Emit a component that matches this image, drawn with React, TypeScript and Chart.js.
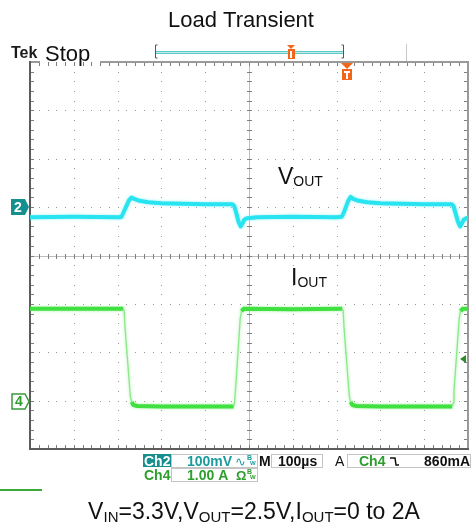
import React, { useEffect, useRef } from "react";
import { Chart, registerables } from "chart.js";

Chart.register(...registerables);

// ---------- data ----------
const TITLE = "Load Transient";
const TIME_MIN_US = 0;
const TIME_MAX_US = 1000; // 10 div x 100 µs
const US_PER_DIV = 100;
const DIVS_X = 10;
const DIVS_Y = 8;

// Ch2 (VOUT, AC coupled) 100 mV/div, ground marker 5 div above bottom
const CH2_RANGE_MV = [-500, 300];
// Ch4 (IOUT) 1 A/div, ground marker 1 div above bottom
const CH4_RANGE_A = [-1, 7];

const voutTimesUs = [
  0, 100, 205, 209, 214, 220, 226, 232, 238, 250, 270, 300, 350, 400, 462, 466, 471, 476, 481, 485,
  489, 495, 520, 600, 700, 712, 717, 722, 727, 732, 738, 750, 770, 800, 850, 900, 963, 967, 972,
  977, 982, 986, 990, 996, 1000,
];
const voutMv = [
  -21, -20, -21, -20, -10, 2, 14, 20, 17, 13, 10, 8, 7, 6, 6, 3, -12, -30, -40, -34, -26, -23, -21,
  -20, -21, -20, -10, 2, 14, 21, 17, 13, 10, 8, 7, 6, 6, 2, -14, -30, -40, -34, -26, -23, -22,
];

const ioutTimesUs = [
  0, 100, 213, 215, 217, 229, 232, 236, 245, 300, 400, 465, 467, 469, 480, 483, 488, 600, 713, 715,
  717, 729, 732, 736, 745, 800, 900, 964, 966, 968, 980, 983, 988, 1000,
];
const ioutA = [
  1.9, 1.9, 1.9, 1.85, 1.5, 0.1, -0.03, -0.09, -0.11, -0.12, -0.12, -0.12, -0.05, 0.2, 1.7, 1.85,
  1.9, 1.89, 1.9, 1.85, 1.5, 0.1, -0.03, -0.09, -0.11, -0.12, -0.12, -0.12, -0.05, 0.2, 1.7, 1.85,
  1.9, 1.9,
];

const TRIGGER_TIME_US = 723;
const TRIGGER_LEVEL_A = 0.86;
const RECORD_TRIGGER_FRACTION = 0.72;

const readoutCh2Scale = "100mV";
const readoutCh4Scale = "1.00 A";
const readoutTimebase = "100µs";
const readoutTrigLevel = "860mA";

// ---------- styles ----------
const FONT = '"Liberation Sans", Arial, Helvetica, sans-serif';
const CYAN = "#27e4f0";
const CYAN_GLOW = "rgba(140,240,248,0.9)";
const GREEN = "#3fe03f";
const GREEN_GLOW = "rgba(150,238,150,0.9)";
const GREEN_EDGE = "#8de88d";
const TEAL = "#168f8f";
const TEAL_TXT = "#1a9c9c";
const GREEN_TXT = "#2e9e2e";
const ORANGE = "#f2661c";

type Run = { t: string; size: number; dy?: number; bold?: boolean };

function drawRuns(
  ctx: CanvasRenderingContext2D,
  runs: Run[],
  x: number,
  baseline: number,
  align: "left" | "center" | "right" = "left"
) {
  const widths = runs.map((r) => {
    ctx.font = `${r.bold ? "bold " : ""}${r.size}px ${FONT}`;
    return ctx.measureText(r.t).width;
  });
  const total = widths.reduce((a, b) => a + b, 0);
  let cx = align === "center" ? x - total / 2 : align === "right" ? x - total : x;
  ctx.textAlign = "left";
  ctx.textBaseline = "alphabetic";
  runs.forEach((r, i) => {
    ctx.font = `${r.bold ? "bold " : ""}${r.size}px ${FONT}`;
    ctx.fillText(r.t, cx, baseline + (r.dy || 0));
    cx += widths[i];
  });
}

const glowColors = [CYAN_GLOW, GREEN_GLOW];

const scopePlugin = {
  id: "scope",
  beforeDatasetDraw(chart: any, args: any) {
    const ctx = chart.ctx;
    ctx.save();
    ctx.shadowColor = glowColors[args.index] || "transparent";
    ctx.shadowBlur = 3;
  },
  afterDatasetDraw(chart: any) {
    chart.ctx.restore();
  },
  beforeDatasetsDraw(chart: any) {
    const { ctx, chartArea: a, scales } = chart;
    const xs = scales.x;
    const yd = scales.yDiv;
    ctx.save();
    // dotted graticule
    ctx.fillStyle = "#9a9a9a";
    for (let i = 1; i < DIVS_X; i++) {
      if (i === DIVS_X / 2) continue;
      const x = Math.round(xs.getPixelForValue(i * US_PER_DIV));
      for (let j = 1; j < DIVS_Y * 5; j++) {
        const y = Math.round(yd.getPixelForValue(j / 5));
        ctx.fillRect(x, y, 1, 1);
      }
    }
    for (let j = 1; j < DIVS_Y; j++) {
      if (j === DIVS_Y / 2) continue;
      const y = Math.round(yd.getPixelForValue(j));
      for (let i = 1; i < DIVS_X * 5; i++) {
        const x = Math.round(xs.getPixelForValue((i * US_PER_DIV) / 5));
        ctx.fillRect(x, y, 1, 1);
      }
    }
    // center cross
    const cx = Math.round(xs.getPixelForValue((DIVS_X / 2) * US_PER_DIV)) + 0.5;
    const cy = Math.round(yd.getPixelForValue(DIVS_Y / 2)) + 0.5;
    ctx.strokeStyle = "#bdbdbd";
    ctx.lineWidth = 1;
    ctx.beginPath();
    ctx.moveTo(cx, a.top);
    ctx.lineTo(cx, a.bottom);
    ctx.moveTo(a.left, cy);
    ctx.lineTo(a.right, cy);
    ctx.stroke();
    ctx.strokeStyle = "#7e7e7e";
    ctx.beginPath();
    for (let j = 1; j < DIVS_Y * 5; j++) {
      const y = Math.round(yd.getPixelForValue(j / 5)) + 0.5;
      ctx.moveTo(cx - 2.5, y);
      ctx.lineTo(cx + 2.5, y);
      ctx.moveTo(a.left, y);
      ctx.lineTo(a.left + 4, y);
      ctx.moveTo(a.right, y);
      ctx.lineTo(a.right - 4, y);
    }
    for (let i = 1; i < DIVS_X * 5; i++) {
      const x = Math.round(xs.getPixelForValue((i * US_PER_DIV) / 5)) + 0.5;
      ctx.moveTo(x, cy - 2.5);
      ctx.lineTo(x, cy + 2.5);
      ctx.moveTo(x, a.top);
      ctx.lineTo(x, a.top + 4);
      ctx.moveTo(x, a.bottom);
      ctx.lineTo(x, a.bottom - 4);
    }
    ctx.stroke();
    // border
    ctx.lineWidth = 2;
    ctx.strokeStyle = "#999";
    ctx.beginPath();
    ctx.moveTo(a.left, a.top);
    ctx.lineTo(a.left + 10, a.top);
    ctx.moveTo(100, a.top);
    ctx.lineTo(a.right, a.top);
    ctx.lineTo(a.right, a.bottom);
    ctx.stroke();
    ctx.strokeStyle = "#5c5c5c";
    ctx.beginPath();
    ctx.moveTo(a.left, a.top - 1);
    ctx.lineTo(a.left, a.bottom);
    ctx.lineTo(a.right + 1, a.bottom);
    ctx.stroke();
    ctx.restore();
  },
  afterDraw(chart: any) {
    const { ctx, chartArea: a, scales } = chart;
    const xs = scales.x;
    const y2 = scales.yCh2;
    const y4 = scales.yCh4;
    ctx.save();

    // Title
    ctx.fillStyle = "#111";
    drawRuns(ctx, [{ t: TITLE, size: 22 }], 241, 27, "center");

    // Tek Stop
    ctx.fillStyle = "#1a1a1a";
    drawRuns(ctx, [{ t: "Tek", size: 16, bold: true }], 11, 58);
    ctx.fillStyle = "#111";
    drawRuns(ctx, [{ t: "Stop", size: 22 }], 45, 61);

    // record bar
    ctx.strokeStyle = "#555";
    ctx.lineWidth = 1;
    ctx.beginPath();
    ctx.moveTo(157.5, 45);
    ctx.lineTo(155.5, 45);
    ctx.lineTo(155.5, 58);
    ctx.lineTo(157.5, 58);
    ctx.moveTo(341.5, 45);
    ctx.lineTo(343.5, 45);
    ctx.lineTo(343.5, 58);
    ctx.lineTo(341.5, 58);
    ctx.stroke();
    ctx.fillStyle = "#5cc8c8";
    ctx.fillRect(156, 51, 187, 3);
    ctx.fillStyle = "#c0ecec";
    ctx.fillRect(156, 52, 187, 1);
    ctx.strokeStyle = "#c8c8c8";
    ctx.beginPath();
    ctx.moveTo(406.5, 44);
    ctx.lineTo(406.5, 61);
    ctx.stroke();
    // small trigger marker in record bar
    const rbX = Math.round(156 + 187 * RECORD_TRIGGER_FRACTION);
    ctx.fillStyle = ORANGE;
    ctx.beginPath();
    ctx.moveTo(rbX - 4, 45);
    ctx.lineTo(rbX + 4, 45);
    ctx.lineTo(rbX, 49);
    ctx.closePath();
    ctx.fill();
    ctx.fillRect(rbX - 3, 49, 7, 10);
    ctx.fillStyle = "#fff";
    ctx.fillRect(rbX - 1, 51, 2, 7);

    // trigger position marker on graticule
    const tx = Math.round(xs.getPixelForValue(TRIGGER_TIME_US));
    ctx.fillStyle = ORANGE;
    ctx.beginPath();
    ctx.moveTo(tx - 6, a.top + 1);
    ctx.lineTo(tx + 6, a.top + 1);
    ctx.lineTo(tx, a.top + 7);
    ctx.closePath();
    ctx.fill();
    ctx.fillRect(tx - 5, a.top + 7, 10, 11);
    ctx.fillStyle = "#fff";
    ctx.fillRect(tx - 3, a.top + 9, 6, 2);
    ctx.fillRect(tx - 1, a.top + 9, 2, 8);

    // Channel 2 ground marker
    const g2 = Math.round(y2.getPixelForValue(0));
    ctx.fillStyle = TEAL;
    ctx.beginPath();
    ctx.moveTo(11, g2 - 8);
    ctx.lineTo(25, g2 - 8);
    ctx.lineTo(29, g2);
    ctx.lineTo(25, g2 + 8);
    ctx.lineTo(11, g2 + 8);
    ctx.closePath();
    ctx.fill();
    ctx.fillStyle = "#fff";
    ctx.font = `bold 14px ${FONT}`;
    ctx.textAlign = "center";
    ctx.textBaseline = "middle";
    ctx.fillText("2", 18, g2 + 1);

    // Channel 4 ground marker
    const g4 = Math.round(y4.getPixelForValue(0)) + 0.5;
    ctx.fillStyle = "#fff";
    ctx.strokeStyle = "#3a9a3a";
    ctx.lineWidth = 1.5;
    ctx.beginPath();
    ctx.moveTo(12, g4 - 7.5);
    ctx.lineTo(25, g4 - 7.5);
    ctx.lineTo(29, g4);
    ctx.lineTo(25, g4 + 7.5);
    ctx.lineTo(12, g4 + 7.5);
    ctx.closePath();
    ctx.fill();
    ctx.stroke();
    ctx.fillStyle = GREEN_TXT;
    ctx.font = `bold 14px ${FONT}`;
    ctx.fillText("4", 19, g4 + 1);

    // trigger level arrow (right edge)
    const tl = y4.getPixelForValue(TRIGGER_LEVEL_A);
    ctx.fillStyle = "#2c8c2c";
    ctx.beginPath();
    ctx.moveTo(460, tl);
    ctx.lineTo(466, tl - 4);
    ctx.lineTo(466, tl + 4);
    ctx.closePath();
    ctx.fill();

    // trace labels
    ctx.fillStyle = "#111";
    drawRuns(ctx, [{ t: "V", size: 23 }, { t: "OUT", size: 14, dy: 2 }], 278, 184);
    drawRuns(ctx, [{ t: "I", size: 23 }, { t: "OUT", size: 14, dy: 2 }], 291, 285);

    // readouts
    ctx.lineWidth = 1;
    ctx.strokeStyle = "#c4c4c4";
    ctx.fillStyle = TEAL;
    ctx.fillRect(143, 454, 28, 13);
    ctx.fillStyle = "#fff";
    drawRuns(ctx, [{ t: "Ch2", size: 14, bold: true }], 144, 466);
    ctx.strokeRect(171.5, 454.5, 86, 13);
    ctx.fillStyle = TEAL_TXT;
    drawRuns(ctx, [{ t: readoutCh2Scale, size: 14, bold: true }], 187, 466);
    drawRuns(ctx, [{ t: "∿", size: 13 }], 235, 466);
    drawRuns(ctx, [{ t: "B", size: 7, bold: true }], 247, 460);
    drawRuns(ctx, [{ t: "W", size: 6, bold: true }], 250, 465);
    ctx.fillStyle = "#111";
    drawRuns(ctx, [{ t: "M", size: 14, bold: true }], 259, 466);
    ctx.strokeRect(271.5, 454.5, 51, 13);
    drawRuns(ctx, [{ t: readoutTimebase, size: 14, bold: true }], 278, 466);
    drawRuns(ctx, [{ t: "A", size: 14, bold: false }], 335, 466);
    ctx.strokeRect(347.5, 454.5, 123, 13);
    ctx.fillStyle = GREEN_TXT;
    drawRuns(ctx, [{ t: "Ch4", size: 14, bold: true }], 359, 466);
    ctx.strokeStyle = "#111";
    ctx.lineWidth = 1.5;
    ctx.beginPath();
    ctx.moveTo(390, 458);
    ctx.lineTo(395, 458);
    ctx.lineTo(396, 465);
    ctx.lineTo(399, 465);
    ctx.stroke();
    ctx.fillStyle = "#111";
    drawRuns(ctx, [{ t: readoutTrigLevel, size: 14, bold: true }], 470, 466, "right");

    ctx.lineWidth = 1;
    ctx.strokeStyle = "#c4c4c4";
    ctx.fillStyle = GREEN_TXT;
    drawRuns(ctx, [{ t: "Ch4", size: 14, bold: true }], 144, 480);
    ctx.strokeRect(171.5, 468.5, 86, 13);
    drawRuns(ctx, [{ t: readoutCh4Scale, size: 14, bold: true }], 187, 480);
    drawRuns(ctx, [{ t: "Ω", size: 13, bold: true }], 236, 480);
    drawRuns(ctx, [{ t: "B", size: 7, bold: true }], 247, 474);
    drawRuns(ctx, [{ t: "W", size: 6, bold: true }], 250, 479);

    // small green line bottom-left
    ctx.fillStyle = "#3aaa3a";
    ctx.fillRect(0, 489, 42, 2);

    // footer
    ctx.fillStyle = "#111";
    drawRuns(
      ctx,
      [
        { t: "V", size: 23 },
        { t: "IN", size: 15, dy: 3 },
        { t: "=3.3V,V", size: 23 },
        { t: "OUT", size: 15, dy: 3 },
        { t: "=2.5V,I", size: 23 },
        { t: "OUT", size: 15, dy: 3 },
        { t: "=0 to 2A", size: 23 },
      ],
      254,
      519,
      "center"
    );
    ctx.restore();
  },
};

export default function App() {
  const ref = useRef<HTMLCanvasElement | null>(null);
  useEffect(() => {
    if (!ref.current) return;
    const steep = (c: any) => Math.abs(c.p1.y - c.p0.y) > 2.5 * Math.abs(c.p1.x - c.p0.x);
    const chart = new Chart(ref.current, {
      type: "line",
      data: {
        datasets: [
          {
            label: "VOUT",
            data: voutTimesUs.map((t, i) => ({ x: t, y: voutMv[i] })),
            yAxisID: "yCh2",
            borderColor: CYAN,
            borderWidth: 4,
            pointRadius: 0,
            tension: 0,
            borderJoinStyle: "round",
          },
          {
            label: "IOUT",
            data: ioutTimesUs.map((t, i) => ({ x: t, y: ioutA[i] })),
            yAxisID: "yCh4",
            borderColor: GREEN,
            borderWidth: 4,
            pointRadius: 0,
            tension: 0,
            borderJoinStyle: "round",
            segment: {
              borderWidth: (c: any) => (steep(c) ? 1.3 : 4),
              borderColor: (c: any) => (steep(c) ? GREEN_EDGE : GREEN),
            },
          },
        ],
      },
      options: {
        responsive: false,
        animation: false,
        devicePixelRatio: 1,
        layout: { padding: { left: 30, right: 3, top: 62, bottom: 76 } },
        plugins: {
          legend: { display: false },
          tooltip: { enabled: false },
          title: { display: false },
        },
        scales: {
          x: { type: "linear", min: TIME_MIN_US, max: TIME_MAX_US, display: false },
          yCh2: { type: "linear", min: CH2_RANGE_MV[0], max: CH2_RANGE_MV[1], display: false },
          yCh4: { type: "linear", min: CH4_RANGE_A[0], max: CH4_RANGE_A[1], display: false },
          yDiv: { type: "linear", min: 0, max: DIVS_Y, display: false },
        },
      } as any,
      plugins: [scopePlugin],
    });
    return () => chart.destroy();
  }, []);
  return (
    <div style={{ position: "absolute", left: 0, top: 0, width: 471, height: 525, background: "#fff" }}>
      <canvas ref={ref} width={471} height={525} style={{ display: "block" }} />
    </div>
  );
}
